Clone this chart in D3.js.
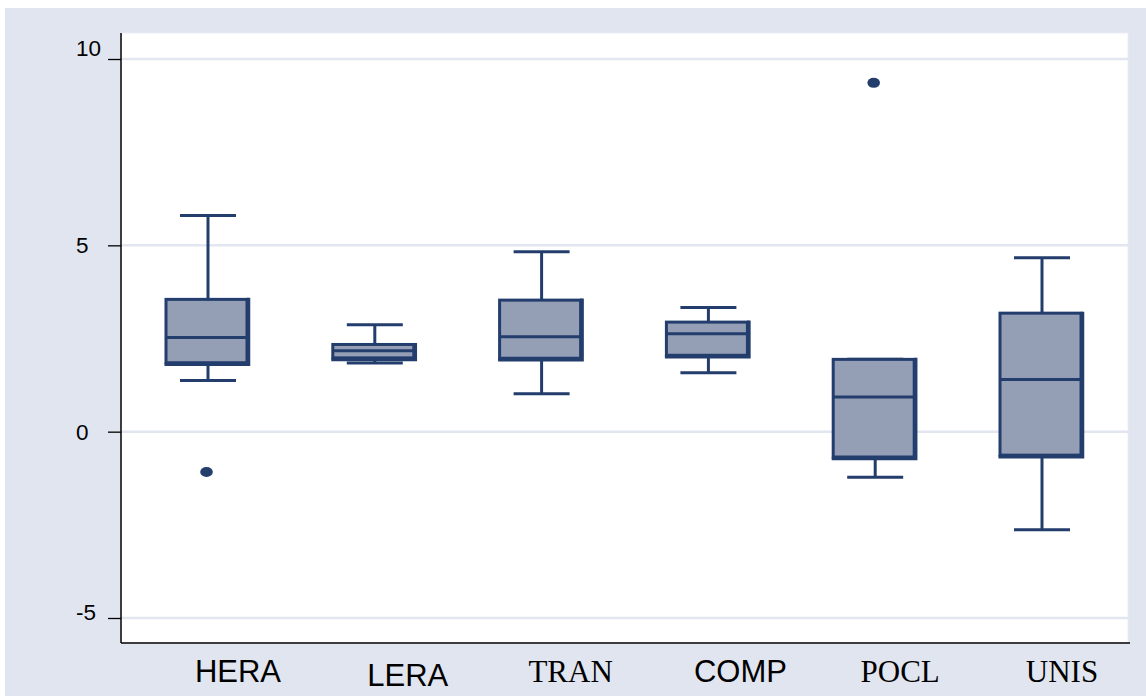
<!DOCTYPE html>
<html>
<head>
<meta charset="utf-8">
<script src="https://cdn.jsdelivr.net/npm/d3@7"></script>
<style>
  html, body { margin: 0; padding: 0; background: #ffffff; }
  svg { display: block; }
</style>
</head>
<body>
<svg id="chart" width="1146" height="698"></svg>
<script>
// Box-plot summaries per variable
const categories = ["HERA", "LERA", "TRAN", "COMP", "POCL", "UNIS"];
const whiskerHigh = [5.80, 2.87, 4.83, 3.33, 1.94, 4.67];
const q3Values    = [3.55, 2.34, 3.53, 2.94, 1.94, 3.18];
const medians     = [2.53, 2.17, 2.55, 2.63, 0.93, 1.40];
const q1Values    = [1.85, 1.98, 1.97, 2.05, -0.68, -0.63];
const whiskerLow  = [1.37, 1.84, 1.02, 1.58, -1.22, -2.63];
const outliers    = [
  { cat: "HERA", value: -1.08 },
  { cat: "POCL", value: 9.36 }
];
const yTicks = [10, 5, 0, -5];
// Sans-serif vs serif labels, as typeset
const labelFonts = ["Liberation Sans", "Liberation Sans", "Liberation Serif",
                    "Liberation Sans", "Liberation Serif", "Liberation Serif"];

const svg = d3.select("#chart");
const W = 1146, H = 698;
const plot = { left: 121, right: 1128, top: 33, bottom: 643 };

const navy = "#233d6c";
const boxFill = "#949fb6";
const bg = "#e1e5f0";
const grid = "#e2e6f0";

// Outer panel
svg.append("rect").attr("x", 0).attr("y", 0).attr("width", W).attr("height", H).attr("fill", "#ffffff");
svg.append("rect").attr("x", 5).attr("y", 8).attr("width", W - 5).attr("height", 688).attr("fill", bg);
// Plot region
svg.append("rect")
  .attr("x", plot.left).attr("y", plot.top)
  .attr("width", plot.right - plot.left).attr("height", plot.bottom - plot.top)
  .attr("fill", "#ffffff").attr("stroke", "#eceef5").attr("stroke-width", 1);

const y = d3.scaleLinear().domain([-5.671, 10.698]).range([plot.bottom, plot.top]);
const x = d3.scaleBand().domain(categories).range([124.6, 1125.4]).padding(0);
const cx = c => x(c) + x.bandwidth() / 2;

// Gridlines
svg.append("g").selectAll("line").data(yTicks).join("line")
  .attr("x1", plot.left).attr("x2", plot.right)
  .attr("y1", d => y(d)).attr("y2", d => y(d))
  .attr("stroke", grid).attr("stroke-width", 2.5);

// Y axis
const yAxis = d3.axisLeft(y).tickValues(yTicks).tickSize(13).tickPadding(0).tickFormat(d => String(d));
const gy = svg.append("g").attr("transform", `translate(${plot.left},0)`).call(yAxis);
gy.select(".domain").remove();
gy.selectAll(".tick line").attr("stroke", "#000").attr("stroke-width", 1.3);
const labelShift = { "10": -12, "5": -1, "0": 0, "-5": -6 };
gy.selectAll(".tick text")
  .attr("x", -45).attr("text-anchor", "start")
  .attr("dy", d => (8 + labelShift[d]) + "px")
  .attr("font-family", "Liberation Sans, Arial, sans-serif")
  .attr("font-size", 22.5).attr("fill", "#000");

svg.append("line").attr("x1", plot.left).attr("x2", plot.left)
  .attr("y1", plot.top).attr("y2", plot.bottom)
  .attr("stroke", "#000").attr("stroke-width", 1.5);
svg.append("line").attr("x1", plot.left).attr("x2", 1130)
  .attr("y1", plot.bottom).attr("y2", plot.bottom)
  .attr("stroke", "#000").attr("stroke-width", 1.5);

// Boxes
const data = categories.map((c, i) => ({
  cat: c, hi: whiskerHigh[i], q3: q3Values[i], med: medians[i], q1: q1Values[i], lo: whiskerLow[i]
}));
const halfL = 42, halfR = 39, capHalf = 28;
const gb = svg.append("g");
data.forEach(d => {
  const c = cx(d.cat);
  const g = gb.append("g");
  // whiskers
  g.append("line").attr("x1", c).attr("x2", c).attr("y1", y(d.hi)).attr("y2", y(d.q3))
    .attr("stroke", navy).attr("stroke-width", 3);
  g.append("line").attr("x1", c).attr("x2", c).attr("y1", y(d.q1)).attr("y2", y(d.lo))
    .attr("stroke", navy).attr("stroke-width", 3);
  g.append("line").attr("x1", c - capHalf).attr("x2", c + capHalf).attr("y1", y(d.hi)).attr("y2", y(d.hi))
    .attr("stroke", navy).attr("stroke-width", 3);
  g.append("line").attr("x1", c - capHalf).attr("x2", c + capHalf).attr("y1", y(d.lo)).attr("y2", y(d.lo))
    .attr("stroke", navy).attr("stroke-width", 3);
  // box
  g.append("rect").attr("x", c - halfL).attr("y", y(d.q3))
    .attr("width", halfL + halfR).attr("height", y(d.q1) - y(d.q3))
    .attr("fill", boxFill).attr("stroke", navy).attr("stroke-width", 3);
  // thicker right and bottom edges
  g.append("path")
    .attr("d", `M${c + halfR + 1.5},${y(d.q3) - 1.5} L${c + halfR + 1.5},${y(d.q1) + 1.5} L${c - halfL - 1.5},${y(d.q1) + 1.5}`)
    .attr("fill", "none").attr("stroke", navy).attr("stroke-width", 3.5);
  // median
  g.append("line").attr("x1", c - halfL).attr("x2", c + halfR).attr("y1", y(d.med)).attr("y2", y(d.med))
    .attr("stroke", navy).attr("stroke-width", 3);
});

// Outside values
svg.append("g").selectAll("ellipse").data(outliers).join("ellipse")
  .attr("cx", d => cx(d.cat) - 1.5).attr("cy", d => y(d.value))
  .attr("rx", 6.3).attr("ry", 5).attr("fill", navy);

// Category labels
const labelBase = [682, 686, 682, 682, 682, 682];
const labelDx = [30, 33, 29, 32, 25, 20];
svg.append("g").selectAll("text").data(categories).join("text")
  .attr("x", (d, i) => cx(d) + labelDx[i])
  .attr("y", (d, i) => labelBase[i])
  .attr("text-anchor", "middle")
  .attr("font-family", (d, i) => labelFonts[i])
  .attr("font-size", 31)
  .attr("fill", "#000")
  .text(d => d);
</script>
</body>
</html>
